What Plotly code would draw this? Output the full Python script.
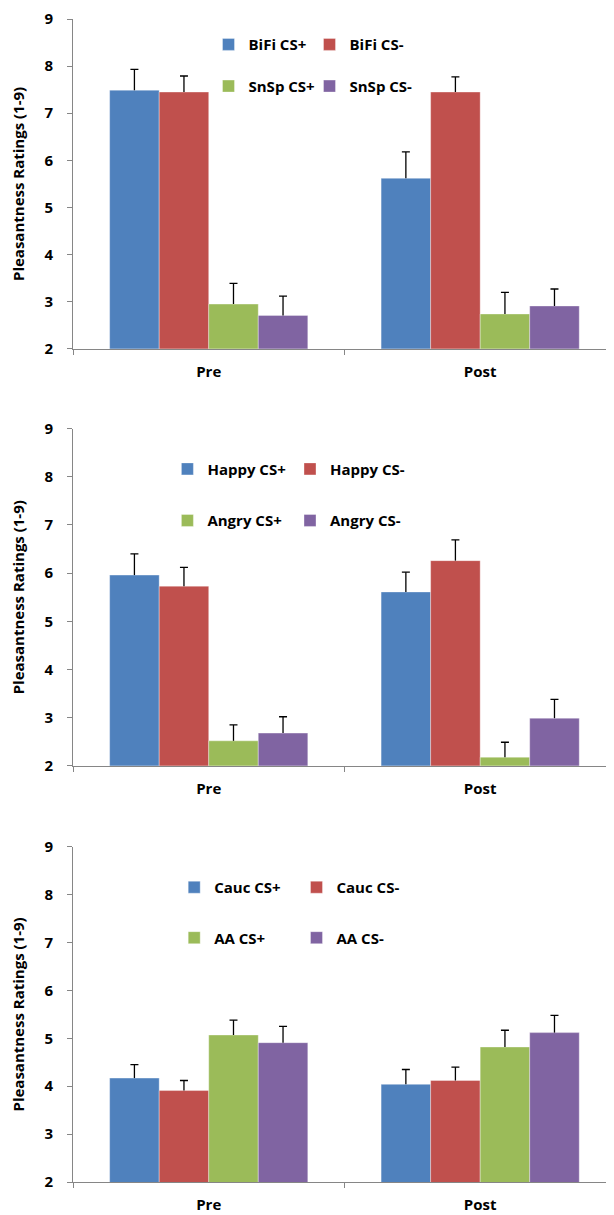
import plotly.graph_objects as go

# ---------------- data ----------------
categories = ["Pre", "Post"]

p1_names = ["BiFi CS+", "BiFi CS-", "SnSp CS+", "SnSp CS-"]
p1_means = [[7.49, 5.62], [7.45, 7.45], [2.95, 2.74], [2.71, 2.91]]
p1_errs = [[0.44, 0.56], [0.34, 0.32], [0.44, 0.46], [0.41, 0.36]]

p2_names = ["Happy CS+", "Happy CS-", "Angry CS+", "Angry CS-"]
p2_means = [[5.96, 5.61], [5.73, 6.26], [2.52, 2.18], [2.68, 2.99]]
p2_errs = [[0.44, 0.41], [0.39, 0.43], [0.33, 0.31], [0.34, 0.39]]

p3_names = ["Cauc CS+", "Cauc CS-", "AA CS+", "AA CS-"]
p3_means = [[4.17, 4.04], [3.91, 4.12], [5.07, 4.82], [4.91, 5.12]]
p3_errs = [[0.28, 0.31], [0.21, 0.28], [0.31, 0.35], [0.34, 0.36]]

y_ticks = [2, 3, 4, 5, 6, 7, 8, 9]
y_title = "Pleasantness Ratings (1-9)"

# ---------------- style / layout ----------------
colors = ["#4F81BD", "#C0504D", "#9BBB59", "#8064A2"]
OFF = 8                     # page body margin in the browser
W, H = 614 - OFF, 1215 - OFF
ML, MR, MT = 65, 0, 8
PH = 1166
MB = H - MT - PH
PW = W - ML - MR
TOP_S = OFF + MT            # screen y of plot top
LEFT_S = OFF + ML           # screen x of plot left

def py(s):
    return (TOP_S + PH - s) / PH

def px(s):
    return (s - LEFT_S) / PW

domains = [[py(346.7), 1.0], [py(764.8), py(426.7)], [0.0, py(846.0)]]
leg_cols = [[235.5, 336.5], [194.4, 317.0], [201.2, 323.5]]
leg_rows = [[41.7, 83.5], [467.3, 519.0], [886.7, 937.3]]

FONT = "Open Sans"
AX = "#868686"
EB = dict(color="black", thickness=1.3)

panels = [(p1_names, p1_means, p1_errs), (p2_names, p2_means, p2_errs), (p3_names, p3_means, p3_errs)]

fig = go.Figure()
layout = {}
k = 0
for p, (names, means, errs) in enumerate(panels):
    sfx = "" if p == 0 else str(p + 1)
    for i, (nm, mv, ev) in enumerate(zip(names, means, errs)):
        k += 1
        lg = "legend" if k == 1 else f"legend{k}"
        # bar with the upward error stem (no caps)
        fig.add_trace(go.Bar(
            x=categories, y=mv, name=nm, showlegend=True, offsetgroup=str(i),
            marker=dict(color=colors[i], line=dict(color="rgba(255,255,255,0.35)", width=1)),
            error_y=dict(type="data", array=ev, arrayminus=[0] * len(ev), symmetric=False,
                         width=0, **EB),
            xaxis="x" + sfx, yaxis="y" + sfx, legend=lg,
        ))
        # cap at the top of the error stem only
        fig.add_trace(go.Bar(
            x=categories, y=[m + e for m, e in zip(mv, ev)], name=nm + " error",
            showlegend=False, offsetgroup=str(i), hoverinfo="skip",
            marker=dict(color="rgba(0,0,0,0)", line=dict(width=0)),
            error_y=dict(type="data", array=[0] * len(ev), arrayminus=[0] * len(ev),
                         symmetric=False, width=4, **EB),
            xaxis="x" + sfx, yaxis="y" + sfx, legend=lg,
        ))
        col, row = i % 2, i // 2
        layout[lg] = dict(
            x=px(leg_cols[p][col] - 27), y=py(leg_rows[p][row]),
            xanchor="left", yanchor="middle", bgcolor="rgba(0,0,0,0)",
            font=dict(family=FONT, size=15, color="black", weight="bold"),
            itemwidth=30, borderwidth=0, visible=True,
        )
    layout["xaxis" + sfx] = dict(
        type="category", range=[-0.5, 1.493], anchor="y" + sfx,
        tickson="boundaries", ticks="outside", ticklen=5, tickcolor=AX,
        showline=True, linecolor=AX, linewidth=1, showgrid=False, zeroline=False,
        tickfont=dict(family=FONT, size=15, color="black", weight="bold"),
        ticklabelstandoff=9, ticklabeloverflow="allow",
    )
    layout["yaxis" + sfx] = dict(
        range=[2, 9], tickvals=y_ticks, domain=domains[p], anchor="x" + sfx,
        ticks="outside", ticklen=5, tickcolor=AX,
        showline=True, linecolor=AX, linewidth=1, showgrid=False, zeroline=False,
        tickfont=dict(family=FONT, size=15, color="black", weight="bold"),
        ticklabelstandoff=11, ticklabeloverflow="allow",
        title=dict(text=y_title, standoff=17,
                   font=dict(family=FONT, size=15, color="black", weight="bold")),
    )

fig.update_layout(
    width=W, height=H, margin=dict(l=ML, r=MR, t=MT, b=MB),
    paper_bgcolor="white", plot_bgcolor="white", showlegend=True,
    barmode="group", bargap=0.27, bargroupgap=0,
    **layout,
)
fig.write_html("out.html")
